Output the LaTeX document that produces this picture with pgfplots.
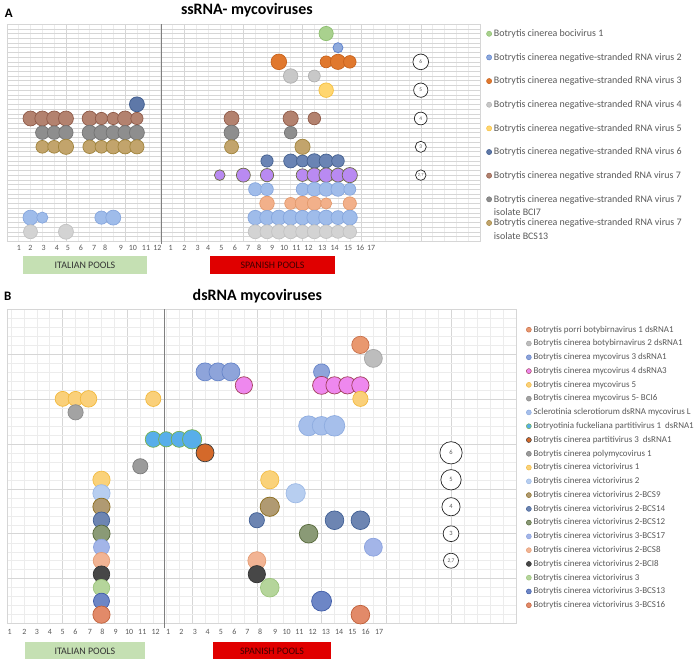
\documentclass[border=0pt]{standalone}
\usepackage{pgfplots}
\pgfplotsset{compat=1.18}
\usepackage{fontspec}
\setmainfont{Carlito}
\definecolor{txt}{HTML}{595959}
\definecolor{gmaj}{HTML}{D6D6D6}
\definecolor{gmin}{HTML}{ECECEC}
\definecolor{divc}{HTML}{7F7F7F}
\definecolor{boxg}{HTML}{C5E0B3}
\definecolor{boxr}{HTML}{E00000}
\definecolor{boxrt}{HTML}{400000}
% panel A colours
\definecolor{a1f}{HTML}{A9D18E}\definecolor{a1d}{HTML}{8DBF6F}
\definecolor{a2f}{HTML}{8FAADC}\definecolor{a2d}{HTML}{5B7FCC}
\definecolor{a3f}{HTML}{E0782E}\definecolor{a3d}{HTML}{C8621C}
\definecolor{a4f}{HTML}{C8C8C8}\definecolor{a4d}{HTML}{B0B0B0}
\definecolor{a5f}{HTML}{FFD670}\definecolor{a5d}{HTML}{F5C040}
\definecolor{a6f}{HTML}{5E78A8}\definecolor{a6d}{HTML}{3D5A8C}
\definecolor{a7f}{HTML}{B3826F}\definecolor{a7d}{HTML}{8F5A48}
\definecolor{a8f}{HTML}{8E8E8E}\definecolor{a8d}{HTML}{747474}
\definecolor{a9f}{HTML}{C2A46C}\definecolor{a9d}{HTML}{A0843C}
\definecolor{a10f}{HTML}{6A84B4}\definecolor{a10d}{HTML}{44608F}
\definecolor{a11f}{HTML}{B98AF2}\definecolor{a11d}{HTML}{6B6A45}
\definecolor{a12f}{HTML}{A0BCEA}\definecolor{a12d}{HTML}{86A6DD}
\definecolor{a13f}{HTML}{F2B08A}\definecolor{a13d}{HTML}{E39A6E}
\definecolor{a14f}{HTML}{9FBCEA}\definecolor{a14d}{HTML}{86A6DD}
\definecolor{a15f}{HTML}{D3D3D3}\definecolor{a15d}{HTML}{C2C2C2}
% panel B colours
\definecolor{b1f}{HTML}{E9986F}\definecolor{b1d}{HTML}{C8704A}
\definecolor{b2f}{HTML}{BDBDBD}\definecolor{b2d}{HTML}{A5A5A5}
\definecolor{b3f}{HTML}{8EA4DA}\definecolor{b3d}{HTML}{6785C9}
\definecolor{b4f}{HTML}{EE88EE}\definecolor{b4d}{HTML}{A0405A}
\definecolor{b5f}{HTML}{FAD07A}\definecolor{b5d}{HTML}{F2B93E}
\definecolor{b6f}{HTML}{A3A3A3}\definecolor{b6d}{HTML}{8A8A8A}
\definecolor{b7f}{HTML}{A6BFEB}\definecolor{b7d}{HTML}{8EACE0}
\definecolor{b8f}{HTML}{58AEEA}\definecolor{b8d}{HTML}{74B04F}
\definecolor{b9f}{HTML}{D4692A}\definecolor{b9d}{HTML}{3B3B3B}
\definecolor{b10f}{HTML}{9B9B9B}\definecolor{b10d}{HTML}{7A7A7A}
\definecolor{b11f}{HTML}{FAD27A}\definecolor{b11d}{HTML}{F2BC45}
\definecolor{b12f}{HTML}{B7CEF0}\definecolor{b12d}{HTML}{9DB9E5}
\definecolor{b13f}{HTML}{B09A72}\definecolor{b13d}{HTML}{8B6D1F}
\definecolor{b14f}{HTML}{6D85B2}\definecolor{b14d}{HTML}{3F5E94}
\definecolor{b15f}{HTML}{8A9A76}\definecolor{b15d}{HTML}{56683A}
\definecolor{b16f}{HTML}{A3B5E8}\definecolor{b16d}{HTML}{8CA3DE}
\definecolor{b17f}{HTML}{F2B494}\definecolor{b17d}{HTML}{E49C74}
\definecolor{b18f}{HTML}{474747}\definecolor{b18d}{HTML}{333333}
\definecolor{b19f}{HTML}{B5D59B}\definecolor{b19d}{HTML}{9CC47C}
\definecolor{b20f}{HTML}{6D86C6}\definecolor{b20d}{HTML}{3F5CA8}
\definecolor{b21f}{HTML}{E28A69}\definecolor{b21d}{HTML}{C0603A}

\pgfplotsset{
  bub/.style n args={4}{only marks, mark=*, scatter, point meta=\thisrow{s},
    visualization depends on={#3*sqrt(\thisrow{s}) \as \bubr},
    mark options={draw=#2, fill=#1, line width=0.7pt},
    scatter/@pre marker code/.code={\scope[mark size=\bubr pt]},
    scatter/@post marker code/.code={\endscope},
    legend image code/.code={\draw[fill=#1,draw=#2,line width=0.5pt] (#4,0pt) circle (#4);}},
  bA/.style 2 args={bub={#1}{#2}{3.2}{2.6pt}},
  bB/.style 2 args={bub={#1}{#2}{4.57}{2.5pt}},
  panel/.style={anchor=south west, scale only axis, clip=false,
    point meta min=0, point meta max=10,
    xtick={0,5,...,40}, minor x tick num=4,
    xticklabels={}, yticklabels={},
    grid=both, major grid style={draw=gmaj, line width=0.5pt},
    minor grid style={draw=gmin, line width=0.4pt},
    major tick length=0pt, minor tick length=0pt, tick style={draw=none},
    axis line style={draw=gmaj},
    ticklabel style={font=\fontsize{8}{9}\selectfont, text=txt},
    extra x tick style={grid=none, xticklabel style={anchor=center}},
    legend cell align=left},
}
\newcommand{\twol}[2]{\raisebox{0pt}[\height][0pt]{\parbox[t]{195pt}{\raggedright #1\\#2}}}

\begin{document}
\begin{tikzpicture}[x=1pt,y=1pt]
\path (0pt,0pt) rectangle (696pt,662pt);

% ---------------- Panel A ----------------
\begin{scope}[shift={(4pt,422pt)}]
\begin{axis}[panel, at={(0pt,0pt)}, width=475pt, height=218pt,
  xmin=0, xmax=40, ymin=0, ymax=46, ytick={0,1,...,46},
  extra x ticks={1.01,1.99,3.12,4.24,5.17,6.26,7.39,8.31,9.64,10.65,11.77,12.73,13.85,15.01,16.13,17.03,18.15,19.28,20.4,21.33,22.43,23.44,24.48,25.51,26.67,27.71,28.86,29.87,30.8},
  extra x tick labels={1,2,3,4,5,6,7,8,9,10,11,12,1,2,3,4,5,6,7,8,9,10,11,12,13,14,15,16,17},
  xticklabel style={yshift=-7pt},
  legend style={draw=none, fill=none, at={(1,1)}, anchor=north west, xshift=6.2pt, yshift=-4.8pt,
    font=\fontsize{10}{13.7}\selectfont, text=txt, row sep=14.3pt, inner sep=0pt,
    nodes={inner sep=0.5pt}, /tikz/column sep=1.5pt},
]
\addplot[bA={a1f}{a1d}] table[row sep=\\]{x y s\\ 27 44 5\\};
\addlegendentry{Botrytis cinerea bocivirus 1}
\addplot[bA={a2f}{a2d}] table[row sep=\\]{x y s\\ 28 41 2.5\\};
\addlegendentry{Botrytis cinerea negative-stranded RNA virus 2}
\addplot[bA={a3f}{a3d}] table[row sep=\\]{x y s\\ 23 38 6\\ 27 38 3.5\\ 28 38 5.7\\ 29 38 3.9\\};
\addlegendentry{Botrytis cinerea negative-stranded RNA virus 3}
\addplot[bA={a4f}{a4d}] table[row sep=\\]{x y s\\ 24 35 5.2\\ 26 35 3.5\\};
\addlegendentry{Botrytis cinerea negative-stranded RNA virus 4}
\addplot[bA={a5f}{a5d}] table[row sep=\\]{x y s\\ 27 32 5.2\\};
\addlegendentry{Botrytis cinerea negative-stranded RNA virus 5}
\addplot[bA={a6f}{a6d}] table[row sep=\\]{x y s\\ 11 29 5.5\\};
\addlegendentry{Botrytis cinerea negative-stranded RNA virus 6}
\addplot[bA={a7f}{a7d}] table[row sep=\\]{x y s\\ 2 26 5.5\\ 3 26 5.5\\ 4 26 5.5\\ 5 26 5.5\\ 7 26 5.5\\ 8 26 3.7\\ 9 26 3.7\\ 10 26 5.5\\ 11 26 3.7\\ 19 26 5.5\\ 24 26 5.7\\ 26 26 3.9\\};
\addlegendentry{Botrytis cinerea negative stranded RNA virus 7}
\addplot[bA={a8f}{a8d}] table[row sep=\\]{x y s\\ 3 23 4.5\\ 4 23 4.5\\ 5 23 5\\ 7 23 5.5\\ 8 23 5.5\\ 9 23 5\\ 10 23 5\\ 11 23 5.5\\ 19 23 5.5\\ 24 23 3.9\\};
\addlegendentry{\twol{Botrytis cinerea negative-stranded RNA virus 7}{isolate BCI7}}
\addplot[bA={a9f}{a9d}] table[row sep=\\]{x y s\\ 3 20 4\\ 4 20 4\\ 5 20 5.7\\ 7 20 4.5\\ 8 20 4\\ 9 20 5\\ 10 20 5\\ 11 20 5\\ 19 20 4.8\\ 25 20 5.7\\};
\addlegendentry{\twol{Botrytis cinerea negative-stranded RNA virus 7}{isolate BCS13}}
\addplot[bA={a10f}{a10d}, forget plot] table[row sep=\\]{x y s\\ 22 17 3.7\\ 24 17 4.8\\ 25 17 3.5\\ 26 17 5.2\\ 27 17 4.8\\ 28 17 3.9\\};
\addplot[bA={a11f}{a11d}, forget plot] table[row sep=\\]{x y s\\ 18 14 2.8\\ 20 14 4.8\\ 22 14 4.3\\ 25 14 3.9\\ 26 14 5.2\\ 27 14 5.2\\ 28 14 4.8\\ 29 14 5.7\\};
\addplot[bA={a12f}{a12d}, forget plot] table[row sep=\\]{x y s\\ 21 11 4.3\\ 22 11 3.9\\ 25 11 3.9\\ 26 11 4.8\\ 27 11 4.8\\ 28 11 4.8\\ 29 11 3.5\\};
\addplot[bA={a13f}{a13d}, forget plot] table[row sep=\\]{x y s\\ 22 8 5.2\\ 24 8 3.5\\ 25 8 5.2\\ 26 8 4.8\\ 27 8 3.1\\ 29 8 4.3\\};
\addplot[bA={a14f}{a14d}, forget plot] table[row sep=\\]{x y s\\ 2 5 5.5\\ 3 5 3.1\\ 8 5 4.3\\ 9 5 5.5\\ 21 5 5.2\\ 22 5 5.2\\ 23 5 5.5\\ 24 5 5.5\\ 25 5 5.2\\ 26 5 5.5\\ 27 5 5.5\\ 28 5 4.8\\ 29 5 5.5\\};
\addplot[bA={a15f}{a15d}, forget plot] table[row sep=\\]{x y s\\ 2 2 4.8\\ 5 2 5.5\\ 21 2 4.8\\ 22 2 4.8\\ 23 2 5.2\\ 24 2 4.8\\ 25 2 4.5\\ 26 2 4.8\\ 27 2 4.5\\ 28 2 4.2\\ 29 2 4.5\\};
% size key
\addplot[bA={white}{black!85}, forget plot] table[row sep=\\]{x y s\\ 35 38 6\\ 35 32 5\\ 35 26 4\\ 35 20 3\\ 35 14 2.7\\};
\coordinate (ka1) at (axis cs:35,38);
\coordinate (ka2) at (axis cs:35,32);
\coordinate (ka3) at (axis cs:35,26);
\coordinate (ka4) at (axis cs:35,20);
\coordinate (ka5) at (axis cs:35,14);
\draw[divc, line width=0.9pt] (axis cs:13.1,-0.6) -- (axis cs:13.1,46);
\end{axis}
\end{scope}
\node[font=\fontsize{5.5}{6}\selectfont, text=txt] at (ka1) {6};
\node[font=\fontsize{5.5}{6}\selectfont, text=txt] at (ka2) {5};
\node[font=\fontsize{5.5}{6}\selectfont, text=txt] at (ka3) {4};
\node[font=\fontsize{5.5}{6}\selectfont, text=txt] at (ka4) {3};
\node[font=\fontsize{4.5}{5}\selectfont, text=txt] at (ka5) {2,7};

% ---------------- Panel B ----------------
\begin{scope}[shift={(4pt,38pt)}]
\begin{axis}[panel, at={(0pt,0pt)}, width=511pt, height=316pt,
  xmin=0.69, xmax=40, ymin=0, ymax=35, ytick={0,5,...,35}, minor y tick num=4,
  extra x ticks={0.9,2.05,3.02,4.02,5.0,5.98,7.1,8.08,9.1,10.13,11.15,12.18,13.15,14.18,15.21,16.21,17.23,18.27,19.28,20.25,21.41,22.31,23.28,24.31,25.33,26.36,27.38,28.41,29.44},
  extra x tick labels={1,2,3,4,5,6,7,8,9,10,11,12,1,2,3,4,5,6,7,8,9,10,11,12,13,14,15,16,17},
  xticklabel style={yshift=-8.7pt},
  legend style={draw=none, fill=none, at={(1,1)}, anchor=north west, xshift=10.2pt, yshift=-16.3pt,
    font=\fontsize{9}{10}\selectfont, text=txt, row sep=5.1pt, inner sep=0pt,
    nodes={inner sep=0.5pt}, /tikz/column sep=1.5pt},
]
\addplot[bB={b1f}{b1d}] table[row sep=\\]{x y s\\ 28 31 3.6\\};
\addlegendentry{Botrytis porri botybirnavirus 1 dsRNA1}
\addplot[bB={b2f}{b2d}] table[row sep=\\]{x y s\\ 29 29.5 3.9\\};
\addlegendentry{Botrytis cinerea botybirnavirus 2 dsRNA1}
\addplot[bB={b3f}{b3d}] table[row sep=\\]{x y s\\ 16 28 3.9\\ 17 28 3.9\\ 18 28 3.9\\ 25 28 3.1\\};
\addlegendentry{Botrytis cinerea mycovirus 3 dsRNA1}
\addplot[bB={b4f}{b4d}] table[row sep=\\]{x y s\\ 19 26.5 3.6\\ 25 26.5 3.9\\ 26 26.5 3.6\\ 27 26.5 3.6\\ 28 26.5 3.6\\};
\addlegendentry{Botrytis cinerea mycovirus 4 dsRNA3}
\addplot[bB={b5f}{b5d}] table[row sep=\\]{x y s\\ 5 25 2.7\\ 6 25 2.7\\ 7 25 3.3\\ 12 25 2.8\\ 28 25 2.8\\};
\addlegendentry{Botrytis cinerea mycovirus 5}
\addplot[bB={b6f}{b6d}] table[row sep=\\]{x y s\\ 6 23.5 2.8\\};
\addlegendentry{Botrytis cinerea mycovirus 5- BCI6}
\addplot[bB={b7f}{b7d}] table[row sep=\\]{x y s\\ 24 22 4.8\\ 25 22 4.2\\ 26 22 5.1\\};
\addlegendentry{Sclerotinia sclerotiorum dsRNA mycovirus L}
\addplot[bB={b8f}{b8d}] table[row sep=\\]{x y s\\ 12 20.5 3.1\\ 13 20.5 2.8\\ 14 20.5 3.1\\ 15 20.5 4.5\\};
\addlegendentry{Botryotinia fuckeliana partitivirus 1\ \ dsRNA1}
\addplot[bB={b9f}{b9d}] table[row sep=\\]{x y s\\ 16 19 3.9\\};
\addlegendentry{Botrytis cinerea partitivirus 3\ \ dsRNA1}
\addplot[bB={b10f}{b10d}] table[row sep=\\]{x y s\\ 11 17.5 2.8\\};
\addlegendentry{Botrytis cinerea polymycovirus 1}
\addplot[bB={b11f}{b11d}] table[row sep=\\]{x y s\\ 8 16 3.6\\ 21 16 4.0\\};
\addlegendentry{Botrytis cinerea victorivirus 1}
\addplot[bB={b12f}{b12d}] table[row sep=\\]{x y s\\ 8 14.5 3.6\\ 23 14.5 4.5\\};
\addlegendentry{Botrytis cinerea victorivirus 2}
\addplot[bB={b13f}{b13d}] table[row sep=\\]{x y s\\ 8 13 3.6\\ 21 13 4.5\\};
\addlegendentry{Botrytis cinerea victorivirus 2-BCS9}
\addplot[bB={b14f}{b14d}] table[row sep=\\]{x y s\\ 8 11.5 3.3\\ 20 11.5 2.8\\ 26 11.5 4.2\\ 28 11.5 4.2\\};
\addlegendentry{Botrytis cinerea victorivirus 2-BCS14}
\addplot[bB={b15f}{b15d}] table[row sep=\\]{x y s\\ 8 10 3.6\\ 24 10 4.2\\};
\addlegendentry{Botrytis cinerea victorivirus 2-BCS12}
\addplot[bB={b16f}{b16d}] table[row sep=\\]{x y s\\ 8 8.5 3.1\\ 29 8.5 3.9\\};
\addlegendentry{Botrytis cinerea victorivirus 3-BCS17}
\addplot[bB={b17f}{b17d}] table[row sep=\\]{x y s\\ 8 7 3.3\\ 20 7 3.9\\};
\addlegendentry{Botrytis cinerea victorivirus 2-BCS8}
\addplot[bB={b18f}{b18d}] table[row sep=\\]{x y s\\ 8 5.5 3.3\\ 20 5.5 3.6\\};
\addlegendentry{Botrytis cinerea victorivirus 2-BCI8}
\addplot[bB={b19f}{b19d}] table[row sep=\\]{x y s\\ 8 4 3.3\\ 21 4 4.2\\};
\addlegendentry{Botrytis cinerea victorivirus 3}
\addplot[bB={b20f}{b20d}] table[row sep=\\]{x y s\\ 8 2.5 3.1\\ 25 2.5 4.8\\};
\addlegendentry{Botrytis cinerea victorivirus 3-BCS13}
\addplot[bB={b21f}{b21d}] table[row sep=\\]{x y s\\ 8 1 3.6\\ 28 1 4.2\\};
\addlegendentry{Botrytis cinerea victorivirus 3-BCS16}
% size key
\addplot[bB={white}{black!85}, forget plot] table[row sep=\\]{x y s\\ 35 19 6\\ 35 16 5\\ 35 13 4\\ 35 10 3\\ 35 7 2.7\\};
\coordinate (kb1) at (axis cs:35,19);
\coordinate (kb2) at (axis cs:35,16);
\coordinate (kb3) at (axis cs:35,13);
\coordinate (kb4) at (axis cs:35,10);
\coordinate (kb5) at (axis cs:35,7);
\draw[divc, line width=0.9pt] (axis cs:12.87,-0.44) -- (axis cs:12.87,35);
\end{axis}
\end{scope}
\node[font=\fontsize{6.5}{7}\selectfont, text=txt] at (kb1) {6};
\node[font=\fontsize{6.5}{7}\selectfont, text=txt] at (kb2) {5};
\node[font=\fontsize{6.5}{7}\selectfont, text=txt] at (kb3) {4};
\node[font=\fontsize{6.5}{7}\selectfont, text=txt] at (kb4) {3};
\node[font=\fontsize{5.5}{6}\selectfont, text=txt] at (kb5) {2,7};

% titles and labels
\node[font=\fontsize{13}{15}\selectfont\bfseries] at (6pt,651pt) {A};
\node[font=\fontsize{16}{18}\selectfont\bfseries] at (245pt,654pt) {ssRNA- mycoviruses};
\node[font=\fontsize{13}{15}\selectfont\bfseries] at (5pt,367pt) {B};
\node[font=\fontsize{16}{18}\selectfont\bfseries] at (255.5pt,367pt) {dsRNA mycoviruses};
% pool boxes
\node[fill=boxg, minimum width=123.6pt, minimum height=17.7pt, inner sep=0pt, font=\fontsize{10}{11}\selectfont, text=black!80] at (82.5pt,398.2pt) {ITALIAN POOLS};
\node[fill=boxr, minimum width=125pt, minimum height=17.7pt, inner sep=0pt, font=\fontsize{10}{11}\selectfont, text=boxrt] at (270.8pt,398.2pt) {SPANISH POOLS};
\node[fill=boxg, minimum width=120pt, minimum height=17.3pt, inner sep=0pt, font=\fontsize{10}{11}\selectfont, text=black!80] at (82.3pt,10.7pt) {ITALIAN POOLS};
\node[fill=boxr, minimum width=119.3pt, minimum height=17.3pt, inner sep=0pt, font=\fontsize{10}{11}\selectfont, text=boxrt] at (270.3pt,10.7pt) {SPANISH POOLS};
\end{tikzpicture}
\end{document}
